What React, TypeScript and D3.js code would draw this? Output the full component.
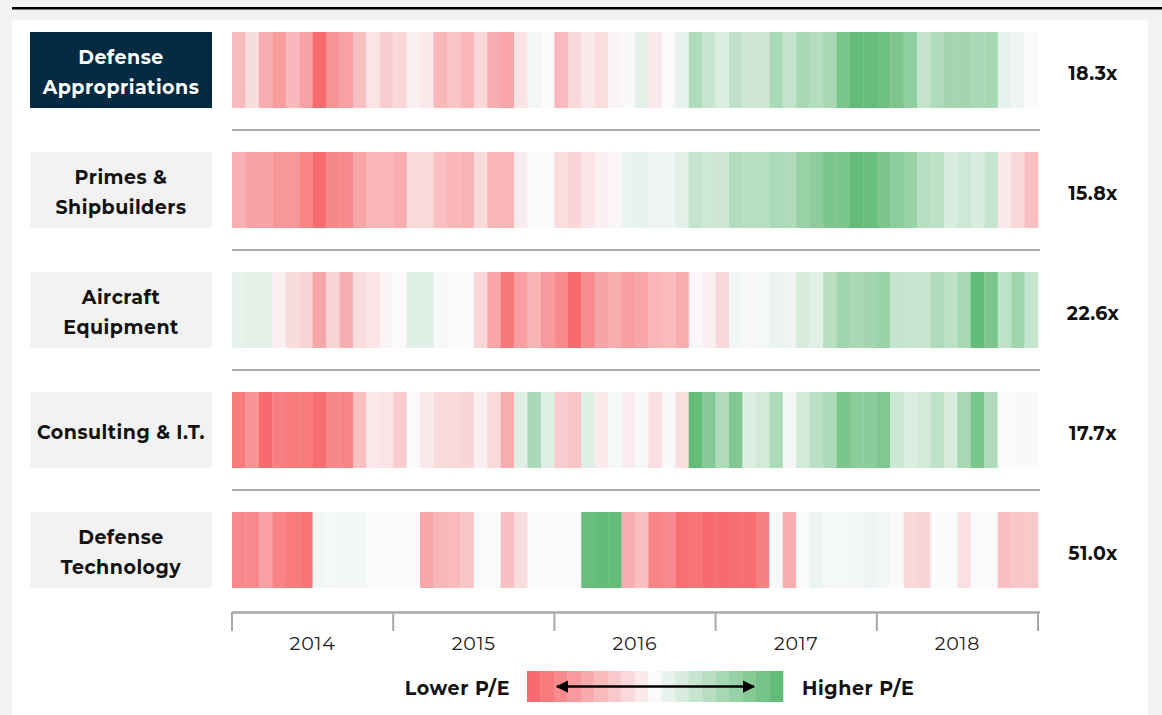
import React from "react";
import * as d3 from "d3";

const sectors = [
  ["Defense", "Appropriations"],
  ["Primes &", "Shipbuilders"],
  ["Aircraft", "Equipment"],
  ["Consulting & I.T."],
  ["Defense", "Technology"],
];
const peLabels = ["18.3x", "15.8x", "22.6x", "17.7x", "51.0x"];
const years = ["2014", "2015", "2016", "2017", "2018"];

// Relative P/E level per month (Jan 2014 .. Dec 2018), -9 = much lower, +9 = much higher
const defenseAppropriations = [
  -3.9, -1.9, -4.8, -5.9, -4.1, -5.5, -9, -6.4, -5.6, -3.6, -1.4, -2.8, -2.2, -0.6, -1.1, -4.2, -3.4, -4.2, -2.1, -4.8,
  -5.3, -1.4, 0.5, 0, -4.1, -2.1, -1.1, -1.8, -0.4, -0.1, 1.4, -1.1, 0, 1.1, 4.35, 3.0, 1.85, 3.6, 2.7, 2.7,
  4.7, 3.3, 4.9, 4.2, 4.9, 7.6, 9, 8.8, 8.3, 7.5, 6.3, 3.3, 4.4, 5.2, 5.2, 4.8, 5.0, 1.1, 0.7, 0,
];
const primesShipbuilders = [
  -4.6, -5.5, -5.4, -6.2, -6.2, -7.4, -9, -7.2, -7, -5.3, -4.3, -4.3, -4.9, -2, -2, -3.7, -4.2, -4.5, -2, -4.25,
  -4.25, -0.9, 0, 0, -1.8, -2.3, -1.25, -0.7, -0.3, 0.95, 1.1, 0.7, 0.7, 1.4, 3.2, 2.6, 2.7, 4.3, 4.05, 4.05,
  4.8, 4.4, 5.8, 6.5, 7.6, 7.6, 9, 8.7, 7.5, 6.6, 5.8, 4.05, 3.7, 2.0, 2.6, 2.0, 3.2, -1.1, -2.2, -3.7,
];
const aircraftEquipment = [
  1.1, 1.4, 1.4, -0.6, -1.9, -2.4, -5.2, -2.4, -4.8, -1.8, -1.4, -0.4, 0, 1.5, 1.5, 0.25, 0, 0, -2.1, -5.25,
  -8.2, -5.75, -4.4, -6, -7, -9, -6.8, -5.4, -4.9, -5.8, -5.25, -4.3, -4, -4.9, -0.2, -0.7, -2.1, 0.5, -0.2, 0.3,
  0.95, 0.7, 2.1, 1.4, 3.9, 5.3, 4.9, 5.2, 5.7, 3.2, 3.0, 3.0, 4.35, 3.7, 5.0, 9, 7.6, 3.5, 5.3, 3.1,
];
const consultingIT = [
  -7.9, -6.4, -9, -7.75, -8, -8, -8.7, -7.2, -7.4, -3.7, -1.1, -1.4, -2.8, 0, -1.1, -2, -2, -2.3, -0.6, -2,
  -4.9, 1.6, 4.8, 1.6, -2.8, -3.4, 1.55, -1.0, 0.35, -0.9, 0.25, -1.7, -0.15, -1.8, 9, 6.9, 4.4, 7.3, 1.8, 2.3,
  4.7, 0.5, 2.3, 3.75, 4.65, 7.6, 6.7, 6.7, 7.3, 2.75, 1.8, 2.3, 3.6, 2.1, 5.0, 7.6, 4.5, 0, -0.15, -0.15,
];
const defenseTechnology = [
  -7.1, -7, -5.6, -7.5, -8, -8.3, 0.6, 0.3, 0.4, 0.4, 0, 0, 0, 0, -5.25, -4.2, -4, -3.4, 0, 0,
  -3.6, -1.9, 0, 0, 0, 0, 8.7, 9, 9, -4.8, -3.7, -7.4, -7.1, -8.7, -8.25, -9, -9, -8.8, -8.8, -7.6,
  0.35, -4.8, 0, 0.85, 0.35, 0.35, 0.4, 0.7, 0.4, 0, -2.1, -2.4, 0, 0, -1.55, 0, 0, -3.7, -3.2, -3.2,
];
const seriesList = [defenseAppropriations, primesShipbuilders, aircraftEquipment, consultingIT, defenseTechnology];
const legendLevels = d3.range(-9, 10, 1);

const FONT = "Montserrat, 'Open Sans', sans-serif";

export default function App() {
  const W = 1162;
  const H = 715;
  const x = d3.scaleLinear().domain([0, 60]).range([232, 1038]);
  const rowTop = d3.scaleLinear().domain([0, 1]).range([32, 152]);
  const rowH = 76;
  const color = d3
    .scaleLinear<string>()
    .domain([-9, 0, 9])
    .range(["#f76a6d", "#fafafc", "#63bc78"])
    .interpolate(d3.interpolateRgb)
    .clamp(true);

  const legX = d3.scaleLinear().domain([0, 19]).range([527, 783]);
  const legY = 671;
  const legH = 31;
  const arrowY = legY + legH / 2;

  return (
    <svg
      width={W}
      height={H}
      style={{ position: "absolute", left: 0, top: 0, fontFamily: FONT }}
    >
      <defs>
        <marker id="ah" viewBox="0 0 10 10" refX="9" refY="5" markerWidth="5" markerHeight="5" orient="auto-start-reverse">
          <path d="M0,0 L10,5 L0,10 z" fill="#000" />
        </marker>
      </defs>
      <rect x={0} y={0} width={W} height={H} fill="#f2f2f2" />
      <rect x={12} y={7} width={W - 12} height={2.5} fill="#000" />
      <rect x={12} y={20} width={1136} height={H - 20} fill="#ffffff" />

      {seriesList.map((vals, r) => {
        const y0 = rowTop(r);
        const lines = sectors[r];
        const isFirst = r === 0;
        const cy = y0 + rowH / 2;
        return (
          <g key={r}>
            <rect x={30} y={y0} width={182} height={rowH} fill={isFirst ? "#022a43" : "#f2f2f2"} />
            {lines.map((t, li) => (
              <text
                key={li}
                x={121}
                y={cy + 2.5 + (li - (lines.length - 1) / 2) * 30}
                dy="0.35em"
                textAnchor="middle"
                fontSize={19}
                fontWeight={700}
                letterSpacing={0.5}
                fill={isFirst ? "#ffffff" : "#111111"}
              >
                {t}
              </text>
            ))}
            {vals.map((v, i) => (
              <rect
                key={i}
                x={x(i)}
                y={y0}
                width={x(i + 1) - x(i) + 0.3}
                height={rowH}
                fill={color(v)}
              />
            ))}
            <text x={1093} y={cy + 3} dy="0.35em" textAnchor="middle" fontSize={19} fontWeight={700} letterSpacing={0.4} fill="#111">
              {peLabels[r]}
            </text>
            {r < seriesList.length - 1 && (
              <line x1={232} x2={1040} y1={y0 + rowH + 22} y2={y0 + rowH + 22} stroke="#a9a9a9" strokeWidth={2} />
            )}
          </g>
        );
      })}

      {/* axis */}
      <line x1={232} x2={1040} y1={612.5} y2={612.5} stroke="#a9a9a9" strokeWidth={2.5} />
      {d3.range(0, 61, 12).map((m) => (
        <line key={m} x1={x(m)} x2={x(m)} y1={612} y2={631} stroke="#a9a9a9" strokeWidth={2} />
      ))}
      {years.map((yr, k) => (
        <text key={yr} x={x(k * 12 + 6)} y={643} dy="0.35em" textAnchor="middle" fontSize={19} letterSpacing={0.8} fill="#222">
          {yr}
        </text>
      ))}

      {/* legend */}
      {legendLevels.map((lv, i) => (
        <rect key={lv} x={legX(i)} y={legY} width={legX(i + 1) - legX(i) + 0.3} height={legH} fill={color(lv)} />
      ))}
      <line
        x1={557}
        x2={754}
        y1={arrowY}
        y2={arrowY}
        stroke="#000"
        strokeWidth={2.5}
        markerStart="url(#ah)"
        markerEnd="url(#ah)"
      />
      <text x={510} y={arrowY + 1.5} dy="0.35em" textAnchor="end" fontSize={19} fontWeight={700} letterSpacing={0.6} fill="#111">
        Lower P/E
      </text>
      <text x={802} y={arrowY + 1.5} dy="0.35em" textAnchor="start" fontSize={19} fontWeight={700} letterSpacing={0.6} fill="#111">
        Higher P/E
      </text>
    </svg>
  );
}
